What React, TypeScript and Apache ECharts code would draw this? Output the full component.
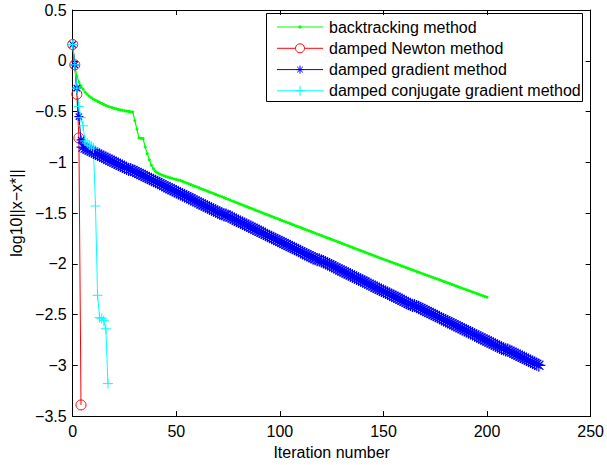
import React, { useEffect, useRef } from "react";
import * as echarts from "echarts";

const FONT = '"Liberation Sans", Arial, Helvetica, sans-serif';

const seriesNames = [
  "backtracking method",
  "damped Newton method",
  "damped gradient method",
  "damped conjugate gradient method",
];
const seriesColors = ["#00ff00", "#ff0000", "#0000ff", "#00ffff"];

const xTicks = { min: 0, max: 250, interval: 50 };
const yTicks = { min: -3.5, max: 0.5, interval: 0.5 };

// backtracking method, iterations 0..200
const backtrackingY = [
  0.16, -0.04, -0.15, -0.21, -0.25, -0.28, -0.31, -0.33, -0.35, -0.365,
  -0.38, -0.39, -0.4, -0.41, -0.42, -0.43, -0.44, -0.448, -0.455, -0.462,
  -0.468, -0.474, -0.479, -0.484, -0.488, -0.492, -0.496, -0.499, -0.502, -0.505,
  -0.59, -0.675, -0.76, -0.763, -0.767, -0.85, -0.915, -0.975, -1.03, -1.065,
  -1.09, -1.105, -1.117, -1.126, -1.133,
  -1.14, -1.146, -1.152, -1.158, -1.164, -1.17, -1.175,
  -1.18, -1.188, -1.196, -1.204, -1.212, -1.22, -1.228, -1.236, -1.244, -1.252,
  -1.26, -1.268, -1.276, -1.284, -1.292, -1.3, -1.308, -1.316, -1.324, -1.332,
  -1.34, -1.348, -1.356, -1.364, -1.372, -1.381, -1.389, -1.397, -1.405, -1.413,
  -1.421, -1.429, -1.437, -1.445, -1.453, -1.461, -1.469, -1.477, -1.485, -1.493,
  -1.501, -1.509, -1.517, -1.525, -1.533, -1.541, -1.549, -1.557, -1.565,
  -1.573, -1.581, -1.588, -1.596, -1.604, -1.612, -1.62, -1.627, -1.635, -1.643,
  -1.651, -1.659, -1.667, -1.674, -1.682, -1.69, -1.698, -1.706, -1.713, -1.721,
  -1.729, -1.737, -1.745, -1.752, -1.76, -1.768, -1.776, -1.784, -1.791, -1.799,
  -1.807, -1.815, -1.823, -1.831, -1.838, -1.846, -1.854, -1.862, -1.87, -1.877,
  -1.885, -1.893, -1.901, -1.909, -1.916, -1.924, -1.932, -1.94,
  -1.948, -1.955, -1.963, -1.97, -1.978, -1.985, -1.993, -2.0, -2.008, -2.015,
  -2.023, -2.03, -2.038, -2.045, -2.053, -2.06, -2.068, -2.075, -2.083, -2.09,
  -2.098, -2.105, -2.113, -2.12, -2.128, -2.135, -2.143, -2.15, -2.158, -2.165,
  -2.173, -2.18, -2.188, -2.195, -2.203, -2.21, -2.218, -2.225, -2.233, -2.24,
  -2.248, -2.255, -2.263, -2.27, -2.278, -2.285, -2.293, -2.3, -2.308, -2.315,
  -2.323, -2.33,
];

// damped Newton method, iterations 0..4
const newtonY = [0.16, -0.04, -0.33, -0.76, -3.39];

// damped gradient method, iterations 0..225
const gradientY = [
  0.16, -0.04, -0.27, -0.55, -0.78,
  -0.85, -0.86, -0.87, -0.88, -0.89, -0.9, -0.91, -0.92, -0.93, -0.94,
  -0.95, -0.96, -0.97, -0.98, -0.99, -1.0, -1.01, -1.02, -1.03, -1.04,
  -1.05, -1.06, -1.07,
  -1.07, -1.08, -1.09, -1.1, -1.11, -1.12, -1.13, -1.14, -1.15, -1.16,
  -1.17, -1.18, -1.19, -1.2, -1.21, -1.22, -1.23, -1.24, -1.25, -1.26,
  -1.27, -1.28, -1.29, -1.3, -1.31, -1.32, -1.33, -1.34, -1.35, -1.36,
  -1.37, -1.38, -1.39, -1.4, -1.41, -1.42, -1.43, -1.44, -1.45, -1.46,
  -1.47, -1.48, -1.49, -1.5, -1.51, -1.52,
  -1.52, -1.53, -1.54, -1.55, -1.56, -1.57, -1.58, -1.59, -1.6, -1.61,
  -1.62, -1.63, -1.64, -1.65, -1.66, -1.67, -1.68, -1.69, -1.7, -1.71,
  -1.72, -1.73, -1.74, -1.75, -1.76, -1.77, -1.78, -1.79, -1.8, -1.81,
  -1.82, -1.83, -1.84, -1.85, -1.86, -1.87, -1.88, -1.89, -1.9, -1.91,
  -1.92, -1.93, -1.94, -1.95, -1.96,
  -1.96, -1.97, -1.98, -1.99, -2.0, -2.01, -2.02, -2.03, -2.04, -2.05,
  -2.06, -2.07, -2.08, -2.09, -2.1, -2.11, -2.12, -2.13, -2.14, -2.15,
  -2.16, -2.17, -2.18, -2.19, -2.2, -2.21, -2.22, -2.23, -2.24, -2.25,
  -2.26, -2.27, -2.28, -2.29, -2.3, -2.31, -2.32, -2.33, -2.34, -2.35,
  -2.36, -2.37, -2.38, -2.39, -2.4, -2.41,
  -2.41, -2.42, -2.43, -2.44, -2.45, -2.46, -2.47, -2.48, -2.49, -2.5,
  -2.51, -2.52, -2.53, -2.54, -2.55, -2.56, -2.57, -2.58, -2.59, -2.6,
  -2.61, -2.62, -2.63, -2.64, -2.65, -2.66, -2.67, -2.68, -2.69, -2.7,
  -2.71, -2.72, -2.73, -2.74, -2.75, -2.76, -2.77, -2.78, -2.79, -2.8,
  -2.81, -2.82, -2.83, -2.84, -2.85,
  -2.85, -2.86, -2.87, -2.88, -2.89, -2.9, -2.91, -2.92, -2.93, -2.94,
  -2.95, -2.96, -2.97, -2.98, -2.99, -3.0,
];

// damped conjugate gradient method, iterations 0..17
const conjugateY = [
  0.16, -0.04, -0.27, -0.45, -0.56, -0.64, -0.79, -0.81, -0.83, -0.84,
  -0.86, -1.43, -2.31, -2.53, -2.54, -2.56, -2.64, -3.18,
];

const toPoints = (ys: number[]) => ys.map((y, i) => [i, y]);

const STAR = "path://M0,-5L0,5M-5,0L5,0M-3.5,-3.5L3.5,3.5M-3.5,3.5L3.5,-3.5";
const PLUS = "path://M0,-5L0,5M-5,0L5,0";

const fmtY = (v: number) => (v < 0 ? "\u2212" + String(Math.abs(v)) : String(v));

function legendGraphic() {
  const left = 266.5;
  const top = 13.5;
  const w = 316;
  const h = 88;
  const rowY = [27, 48.3, 69.6, 90.8];
  const x1 = 277;
  const x2 = 323;
  const mx = 300;
  const children: any[] = [
    {
      type: "rect",
      shape: { x: left, y: top, width: w, height: h },
      style: { fill: "#fff", stroke: "#000", lineWidth: 1 },
    },
  ];
  seriesNames.forEach((name, i) => {
    const y = rowY[i];
    const c = seriesColors[i];
    children.push({
      type: "line",
      shape: { x1, y1: y, x2, y2: y },
      style: { stroke: c, lineWidth: 1 },
    });
    if (i === 0) {
      children.push({ type: "circle", shape: { cx: mx, cy: y, r: 1.6 }, style: { fill: c } });
    } else if (i === 1) {
      children.push({
        type: "circle",
        shape: { cx: mx, cy: y, r: 4.5 },
        style: { fill: "#fff", stroke: c, lineWidth: 1 },
      });
    } else if (i === 2) {
      const s = 4;
      const d = 2.8;
      [
        [0, -s, 0, s],
        [-s, 0, s, 0],
        [-d, -d, d, d],
        [-d, d, d, -d],
      ].forEach(([a, b, cc, dd]) =>
        children.push({
          type: "line",
          shape: { x1: mx + a, y1: y + b, x2: mx + cc, y2: y + dd },
          style: { stroke: c, lineWidth: 1 },
        })
      );
    } else {
      const s = 5;
      [
        [0, -s, 0, s],
        [-s, 0, s, 0],
      ].forEach(([a, b, cc, dd]) =>
        children.push({
          type: "line",
          shape: { x1: mx + a, y1: y + b, x2: mx + cc, y2: y + dd },
          style: { stroke: c, lineWidth: 1 },
        })
      );
    }
    children.push({
      type: "text",
      x: 329,
      y,
      style: {
        text: name,
        fill: "#000",
        fontSize: 16,
        fontFamily: FONT,
        verticalAlign: "middle",
        align: "left",
      },
    });
  });
  return [{ type: "group", z: 100, children }];
}

export default function App() {
  const ref = useRef<HTMLDivElement>(null);
  useEffect(() => {
    if (!ref.current) return;
    const chart = echarts.init(ref.current, null, { renderer: "svg" });
    const axisLine = { show: true, onZero: false, lineStyle: { color: "#000", width: 1 } };
    const axisTick = { show: true, inside: true, length: 5, lineStyle: { color: "#000", width: 1 } };
    chart.setOption({
      animation: false,
      backgroundColor: "#fff",
      textStyle: { fontFamily: FONT },
      grid: { left: 72.7, right: 14, top: 10, bottom: 44.3, containLabel: false },
      xAxis: [
        {
          type: "value", ...xTicks, position: "bottom",
          axisLine, axisTick, splitLine: { show: false },
          axisLabel: { color: "#000", fontSize: 16, margin: 7, fontFamily: FONT },
          name: "Iteration number", nameLocation: "middle", nameGap: 24,
          nameTextStyle: { color: "#000", fontSize: 16, fontFamily: FONT },
        },
        {
          type: "value", ...xTicks, position: "top",
          axisLine, axisTick, splitLine: { show: false }, axisLabel: { show: false },
        },
      ],
      yAxis: [
        {
          type: "value", ...yTicks, position: "left",
          axisLine, axisTick, splitLine: { show: false },
          axisLabel: { color: "#000", fontSize: 16, margin: 6, formatter: fmtY, fontFamily: FONT },
          name: "log10||x\u2212x*||", nameLocation: "middle", nameGap: 46, nameRotate: 90,
          nameTextStyle: { color: "#000", fontSize: 16, fontFamily: FONT },
        },
        {
          type: "value", ...yTicks, position: "right",
          axisLine, axisTick, splitLine: { show: false }, axisLabel: { show: false },
        },
      ],
      graphic: legendGraphic(),
      series: [
        {
          name: seriesNames[0], type: "line", data: toPoints(backtrackingY),
          symbol: "circle", symbolSize: 3, showAllSymbol: true,
          lineStyle: { color: seriesColors[0], width: 1.2 },
          itemStyle: { color: seriesColors[0] },
        },
        {
          name: seriesNames[1], type: "line", data: toPoints(newtonY),
          symbol: "circle", symbolSize: 10, showAllSymbol: true,
          lineStyle: { color: seriesColors[1], width: 1 },
          itemStyle: { color: "rgba(0,0,0,0)", borderColor: seriesColors[1], borderWidth: 1 },
        },
        {
          name: seriesNames[2], type: "line", data: toPoints(gradientY),
          symbol: STAR,
          symbolSize: (_v: any, p: any) => (p.dataIndex < 5 ? 9 : 13),
          showAllSymbol: true,
          lineStyle: { color: seriesColors[2], width: 1 },
          itemStyle: { color: "rgba(0,0,0,0)", borderColor: seriesColors[2], borderWidth: 1.2 },
        },
        {
          name: seriesNames[3], type: "line", data: toPoints(conjugateY),
          symbol: PLUS, symbolSize: 10, showAllSymbol: true,
          lineStyle: { color: seriesColors[3], width: 1 },
          itemStyle: { color: "rgba(0,0,0,0)", borderColor: seriesColors[3], borderWidth: 1 },
        },
      ],
    });
    return () => chart.dispose();
  }, []);
  return (
    <div
      ref={ref}
      style={{ position: "absolute", left: 0, top: 0, width: 607, height: 465, background: "#fff" }}
    />
  );
}
